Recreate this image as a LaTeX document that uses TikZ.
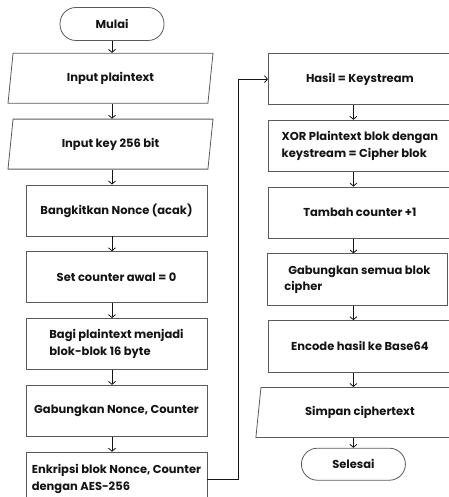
\documentclass[tikz,border=0pt]{standalone}
\usepackage{fontspec}
\setmainfont{Poppins}
\usepackage{tikz}
\usepackage{xcolor}
\usetikzlibrary{arrows.meta, positioning, shapes.geometric}
\definecolor{boxGray}{HTML}{5A5A5A}
\definecolor{inkDark}{HTML}{141414}

\begin{document}
\begin{tikzpicture}[
  x=1pt, y=1pt,
  node distance=15pt,
  every node/.style={font=\bfseries\fontsize{11.5pt}{16.5pt}\selectfont, text=inkDark},
  terminal/.style={draw=boxGray, rectangle, rounded corners=16pt, minimum width=104pt, minimum height=33pt, line width=0.8pt},
  process/.style={draw=boxGray, rectangle, minimum width=181pt, minimum height=51pt, align=center, line width=0.8pt},
  inout/.style={draw=boxGray, trapezium, trapezium left angle=75, trapezium right angle=105, trapezium stretches body, minimum width=205pt, minimum height=50pt, line width=0.8pt},
  flow/.style={-{Straight Barb[length=3pt, width=7pt]}, line width=0.8pt, draw=inkDark}
]
\useasboundingbox (0,0) rectangle (448,-497);

% left column
\node[terminal] (mulai) at (112,-24) {Mulai};
\node[inout, below=12pt of mulai, xshift=-1.5pt] (plain) {Input plaintext};
\node[inout, below=of plain] (key) {Input key 256 bit};
\node[process, below=of key, xshift=6pt] (nonce) {Bangkitkan Nonce (acak)};
\node[process, below=of nonce] (ctr) {Set counter awal = 0};
\node[process, below=of ctr, align=left] (bagi) {Bagi plaintext menjadi\\blok-blok 16 byte};
\node[process, below=of bagi] (gabung) {Gabungkan Nonce, Counter};
\node[process, below=of gabung, minimum height=54pt, align=left] (enkripsi) {Enkripsi blok Nonce, Counter\\dengan AES-256};

% right column
\node[process, minimum width=183pt, minimum height=51.5pt, anchor=north west] (hasil) at (268,-53) {Hasil = Keystream};
\node[process, minimum width=183pt, minimum height=51.5pt, below=14.5pt of hasil, align=left] (xor) {XOR Plaintext blok dengan\\keystream = Cipher blok};
\node[process, minimum width=183pt, minimum height=51.5pt, below=14.5pt of xor] (tambah) {Tambah counter +1};
\node[process, minimum width=180pt, minimum height=51.5pt, below=14.5pt of tambah, xshift=-2.5pt, align=left] (gabcipher) {\hspace*{4pt}Gabungkan semua blok\\cipher};
\node[process, minimum width=183pt, minimum height=51.5pt, below=14.5pt of gabcipher, xshift=2.5pt] (encode) {Encode hasil ke Base64};
\node[inout, minimum width=208pt, below=14.5pt of encode] (simpan) {Simpan ciphertext};
\node[terminal, minimum height=32pt, below=10pt of simpan, xshift=-6.5pt] (selesai) {Selesai};

% arrows down the left column
\foreach \a/\b in {mulai/plain, plain/key, key/nonce, nonce/ctr, ctr/bagi, bagi/gabung, gabung/enkripsi}
  \draw[flow] (\a.south -| mulai) -- (\b.north -| mulai);

% loop over to the right column
\draw[flow] (enkripsi.east) -- ++(31,0) |- (hasil.west);

% arrows down the right column
\foreach \a/\b in {hasil/xor, xor/tambah, tambah/gabcipher, gabcipher/encode, encode/simpan, simpan/selesai}
  \draw[flow] (\a.south -| selesai) -- (\b.north -| selesai);
\end{tikzpicture}
\end{document}
